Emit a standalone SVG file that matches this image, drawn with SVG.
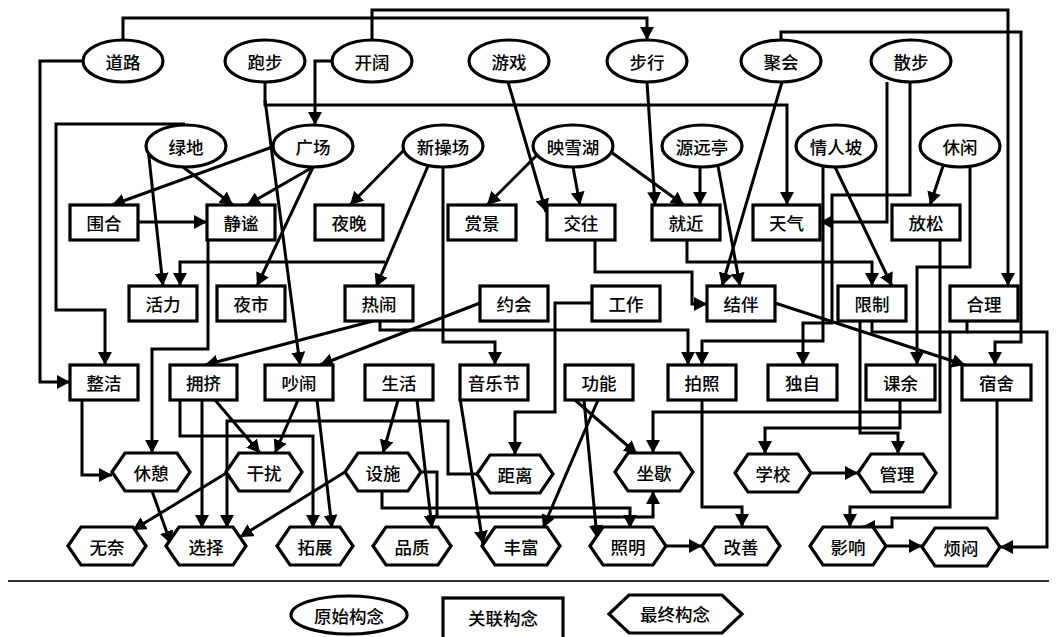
<svg xmlns="http://www.w3.org/2000/svg" width="1057" height="637" viewBox="0 0 1057 637">
<style>
.n{fill:#fff;stroke:#000;stroke-width:3.2}
.t{font-family:"Noto Sans CJK SC","Noto Sans",sans-serif;font-size:17.5px;font-weight:500;text-anchor:middle;dominant-baseline:central;fill:#000}
#edges path{fill:none;stroke:#000;stroke-width:3;marker-end:url(#ah)}
#edges path.na{marker-end:none}
</style>
<defs>
<marker id="ah" markerUnits="userSpaceOnUse" markerWidth="14" markerHeight="14" refX="13" refY="7" orient="auto"><path d="M0,0 L13,7 L0,14 z" fill="#000"/></marker>
</defs>
<rect width="1057" height="637" fill="#fff"/>
<g id="edges">
<path d="M123 40 V18 H647 V40"/>
<path d="M372 40 V10 H1008 V286"/>
<path d="M781 40 V32 H1021 V342 H995 V365"/>
<path d="M265 82 V105 H787 V205"/>
<path d="M265 100 L300 365"/>
<path d="M332 61 H315 V125"/>
<path d="M83 61 H40 V382 H70"/>
<path d="M185 124 H56 V310 H105 V365"/>
<path d="M148 148 L163 286"/>
<path d="M183 167 L233 205"/>
<path d="M313 167 L247 205"/>
<path d="M275 146 L112 205"/>
<path d="M313 167 L257 286"/>
<path d="M138 222 H207"/>
<path d="M208 240 V349 H152 V453"/>
<path d="M385 262 H180 V286"/>
<path d="M404 150 L350 205"/>
<path d="M428 166 L376 287"/>
<path d="M443 167 V342 H495 V365"/>
<path d="M508 82 L546 212"/>
<path d="M537 155 L487 205"/>
<path d="M573 167 L580 205"/>
<path d="M611 152 L684 205"/>
<path d="M647 82 L655 205"/>
<path d="M700 167 V205"/>
<path d="M718 166 L740 286"/>
<path d="M782 82 L722 286"/>
<path d="M887 82 V222 H820"/>
<path d="M910 82 V195 H832 V323 H803 V365"/>
<path d="M823 167 V341 H702 V365"/>
<path d="M835 167 L892 286"/>
<path d="M687 240 V262 H872 V286"/>
<path d="M595 240 V272 H692 V304 H707"/>
<path d="M943 166 L930 205"/>
<path d="M970 167 V267 H917 V365"/>
<path d="M940 240 V412 H653 V453"/>
<path d="M702 400 V507 H742 V527"/>
<path d="M900 400 V428 H765 V454"/>
<path d="M860 321 V433 H898 V454"/>
<path d="M812 473 H858"/>
<path d="M967 321 V332 H950 V507 H850 V527"/>
<path d="M967 332 H1047 V547 H1000"/>
<path d="M997 400 V518 H892 V527 H862"/>
<path d="M887 546 H922"/>
<path class="na" d="M872 321 V332 H950"/>
<path d="M82 400 V475 H112"/>
<path d="M373 321 L205 365"/>
<path d="M480 303 L320 365"/>
<path d="M380 321 V330 H688 V365"/>
<path d="M592 303 H555 V412 H515 V455"/>
<path d="M775 303 L965 365"/>
<path d="M180 400 V436 H313 V528"/>
<path d="M202 400 V528"/>
<path d="M215 400 L260 453"/>
<path d="M298 400 L275 453"/>
<path d="M317 400 L332 528"/>
<path d="M477 474 H448 V421 H227 V528"/>
<path d="M228 472 L133 530"/>
<path d="M152 491 L171 544"/>
<path d="M345 472 L240 537"/>
<path d="M398 400 L383 453"/>
<path d="M417 400 L432 528"/>
<path d="M422 472 H437 V517 H653 V491"/>
<path d="M382 491 V508 H630 V528"/>
<path d="M460 398 L483 544"/>
<path d="M598 400 L543 528"/>
<path d="M575 400 L637 454"/>
<path d="M584 400 L597 538"/>
<path d="M667 546 H702"/>
</g>
<g id="n-daolu"><ellipse class="n" cx="123" cy="61" rx="40" ry="21"/><text class="t" x="123" y="61">道路</text></g>
<g id="n-paobu"><ellipse class="n" cx="265" cy="61" rx="40" ry="21"/><text class="t" x="265" y="61">跑步</text></g>
<g id="n-kaikuo"><ellipse class="n" cx="372" cy="61" rx="40" ry="21"/><text class="t" x="372" y="61">开阔</text></g>
<g id="n-youxi"><ellipse class="n" cx="509" cy="61" rx="40" ry="21"/><text class="t" x="509" y="61">游戏</text></g>
<g id="n-buxing"><ellipse class="n" cx="647" cy="61" rx="40" ry="21"/><text class="t" x="647" y="61">步行</text></g>
<g id="n-juhui"><ellipse class="n" cx="781" cy="61" rx="40" ry="21"/><text class="t" x="781" y="61">聚会</text></g>
<g id="n-sanbu"><ellipse class="n" cx="911" cy="61" rx="40" ry="21"/><text class="t" x="911" y="61">散步</text></g>
<g id="n-lvdi"><ellipse class="n" cx="186" cy="146" rx="40" ry="21"/><text class="t" x="186" y="146">绿地</text></g>
<g id="n-guangchang"><ellipse class="n" cx="313" cy="146" rx="40" ry="21"/><text class="t" x="313" y="146">广场</text></g>
<g id="n-xincaochang"><ellipse class="n" cx="443" cy="146" rx="40" ry="21"/><text class="t" x="443" y="146">新操场</text></g>
<g id="n-yingxuehu"><ellipse class="n" cx="573" cy="146" rx="40" ry="21"/><text class="t" x="573" y="146">映雪湖</text></g>
<g id="n-yuanyuanting"><ellipse class="n" cx="702" cy="146" rx="40" ry="21"/><text class="t" x="702" y="146">源远亭</text></g>
<g id="n-qingrenpo"><ellipse class="n" cx="836" cy="146" rx="40" ry="21"/><text class="t" x="836" y="146">情人坡</text></g>
<g id="n-xiuxian"><ellipse class="n" cx="960" cy="146" rx="40" ry="21"/><text class="t" x="960" y="146">休闲</text></g>
<g id="n-weihe"><rect class="n" x="70" y="205" width="68" height="35"/><text class="t" x="104" y="222.5">围合</text></g>
<g id="n-jingmi"><rect class="n" x="207" y="205" width="68" height="35"/><text class="t" x="241" y="222.5">静谧</text></g>
<g id="n-yewan"><rect class="n" x="315" y="205" width="68" height="35"/><text class="t" x="349" y="222.5">夜晚</text></g>
<g id="n-shangjing"><rect class="n" x="448" y="205" width="68" height="35"/><text class="t" x="482" y="222.5">赏景</text></g>
<g id="n-jiaowang"><rect class="n" x="547" y="205" width="68" height="35"/><text class="t" x="581" y="222.5">交往</text></g>
<g id="n-jiujin"><rect class="n" x="652" y="205" width="68" height="35"/><text class="t" x="686" y="222.5">就近</text></g>
<g id="n-tianqi"><rect class="n" x="753" y="205" width="67" height="35"/><text class="t" x="786.5" y="222.5">天气</text></g>
<g id="n-fangsong"><rect class="n" x="892" y="205" width="68" height="35"/><text class="t" x="926" y="222.5">放松</text></g>
<g id="n-huoli"><rect class="n" x="129" y="286" width="68" height="35"/><text class="t" x="163" y="303.5">活力</text></g>
<g id="n-yeshi"><rect class="n" x="217" y="286" width="68" height="35"/><text class="t" x="251" y="303.5">夜市</text></g>
<g id="n-renao"><rect class="n" x="345" y="286" width="68" height="35"/><text class="t" x="379" y="303.5">热闹</text></g>
<g id="n-yuehui"><rect class="n" x="480" y="286" width="68" height="35"/><text class="t" x="514" y="303.5">约会</text></g>
<g id="n-gongzuo"><rect class="n" x="592" y="286" width="68" height="35"/><text class="t" x="626" y="303.5">工作</text></g>
<g id="n-jieban"><rect class="n" x="707" y="286" width="68" height="35"/><text class="t" x="741" y="303.5">结伴</text></g>
<g id="n-xianzhi"><rect class="n" x="838" y="286" width="68" height="35"/><text class="t" x="872" y="303.5">限制</text></g>
<g id="n-heli"><rect class="n" x="950" y="286" width="68" height="35"/><text class="t" x="984" y="303.5">合理</text></g>
<g id="n-zhengjie"><rect class="n" x="70" y="365" width="68" height="35"/><text class="t" x="104" y="382.5">整洁</text></g>
<g id="n-yongji"><rect class="n" x="170" y="365" width="67" height="35"/><text class="t" x="203.5" y="382.5">拥挤</text></g>
<g id="n-chaonao"><rect class="n" x="265" y="365" width="68" height="35"/><text class="t" x="299" y="382.5">吵闹</text></g>
<g id="n-shenghuo"><rect class="n" x="365" y="365" width="68" height="35"/><text class="t" x="399" y="382.5">生活</text></g>
<g id="n-yinyuejie"><rect class="n" x="460" y="365" width="68" height="35"/><text class="t" x="494" y="382.5">音乐节</text></g>
<g id="n-gongneng"><rect class="n" x="565" y="365" width="68" height="35"/><text class="t" x="599" y="382.5">功能</text></g>
<g id="n-paizhao"><rect class="n" x="668" y="365" width="68" height="35"/><text class="t" x="702" y="382.5">拍照</text></g>
<g id="n-duzi"><rect class="n" x="768" y="365" width="69" height="35"/><text class="t" x="802.5" y="382.5">独自</text></g>
<g id="n-keyu"><rect class="n" x="866" y="365" width="69" height="35"/><text class="t" x="900.5" y="382.5">课余</text></g>
<g id="n-sushe"><rect class="n" x="962" y="365" width="69" height="35"/><text class="t" x="996.5" y="382.5">宿舍</text></g>
<g id="n-xiuqi"><polygon class="n" points="112,472 125,453 177,453 190,472 177,491 125,491"/><text class="t" x="151" y="472">休憩</text></g>
<g id="n-ganrao"><polygon class="n" points="226,472 239,453 289,453 302,472 289,491 239,491"/><text class="t" x="264" y="472">干扰</text></g>
<g id="n-sheshi"><polygon class="n" points="345,472 358,453 408,453 421,472 408,491 358,491"/><text class="t" x="383" y="472">设施</text></g>
<g id="n-juli"><polygon class="n" points="477,474 490,455 540,455 553,474 540,493 490,493"/><text class="t" x="515" y="474">距离</text></g>
<g id="n-zuoxie"><polygon class="n" points="615,472 628,453 680,453 693,472 680,491 628,491"/><text class="t" x="654" y="472">坐歇</text></g>
<g id="n-xuexiao"><polygon class="n" points="735,473 748,454 798,454 811,473 798,492 748,492"/><text class="t" x="773" y="473">学校</text></g>
<g id="n-guanli"><polygon class="n" points="858,473 871,454 923,454 936,473 923,492 871,492"/><text class="t" x="897" y="473">管理</text></g>
<g id="n-wunai"><polygon class="n" points="68,546 81,527 133,527 146,546 133,565 81,565"/><text class="t" x="107" y="546">无奈</text></g>
<g id="n-xuanze"><polygon class="n" points="166,546 179,527 233,527 246,546 233,565 179,565"/><text class="t" x="206" y="546">选择</text></g>
<g id="n-tuozhan"><polygon class="n" points="277,546 290,527 340,527 353,546 340,565 290,565"/><text class="t" x="315" y="546">拓展</text></g>
<g id="n-pinzhi"><polygon class="n" points="373,546 386,527 438,527 451,546 438,565 386,565"/><text class="t" x="412" y="546">品质</text></g>
<g id="n-fengfu"><polygon class="n" points="482,546 495,527 547,527 560,546 547,565 495,565"/><text class="t" x="521" y="546">丰富</text></g>
<g id="n-zhaoming"><polygon class="n" points="590,546 603,527 653,527 666,546 653,565 603,565"/><text class="t" x="628" y="546">照明</text></g>
<g id="n-gaishan"><polygon class="n" points="702,546 715,527 767,527 780,546 767,565 715,565"/><text class="t" x="741" y="546">改善</text></g>
<g id="n-yingxiang"><polygon class="n" points="810,546 823,527 873,527 886,546 873,565 823,565"/><text class="t" x="848" y="546">影响</text></g>
<g id="n-fanmen"><polygon class="n" points="922,547 935,528 987,528 1000,547 987,566 935,566"/><text class="t" x="961" y="547">烦闷</text></g>
<line x1="8" y1="581" x2="1049" y2="581" stroke="#333" stroke-width="2"/>
<g id="legend-yuanshi"><ellipse class="n" cx="349" cy="615" rx="58" ry="19"/><text class="t" x="349" y="615">原始构念</text></g>
<g id="legend-guanlian"><rect class="n" x="443" y="598" width="120" height="41"/><text class="t" x="503" y="617">关联构念</text></g>
<g id="legend-zuizhong"><polygon class="n" points="609,614 629,595 722,595 742,614 722,633 629,633"/><text class="t" x="675" y="613">最终构念</text></g>
</svg>
